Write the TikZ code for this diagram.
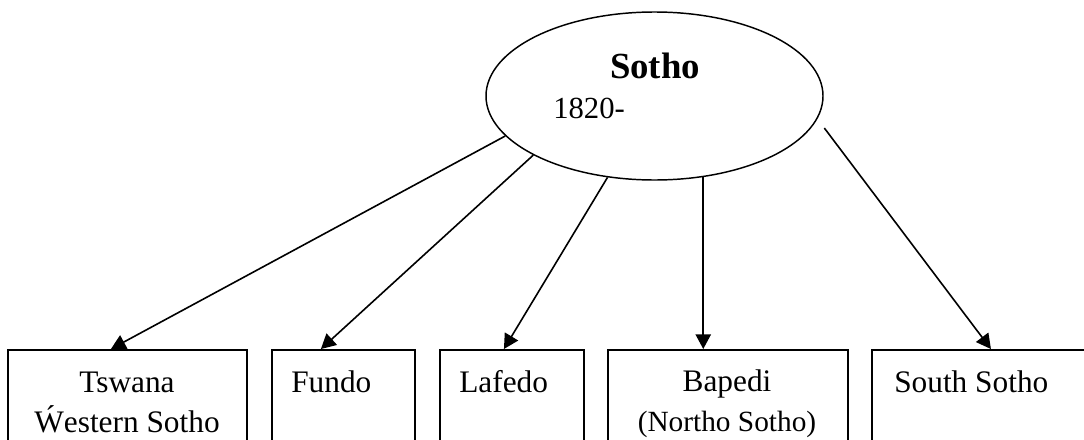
\documentclass[tikz,border=0pt]{standalone}
\usepackage{fontspec}
\setmainfont{Liberation Serif}
\usetikzlibrary{arrows.meta,shapes.geometric}

\begin{document}
\begin{tikzpicture} [x = 0.75pt, y = -0.75pt,
	rootnode/.style = {draw, ellipse, line width = 1.1pt, minimum width = 252.75pt, minimum height = 126pt, inner sep = 0pt},
	langbox/.style = {draw, rectangle, line width = 1.4pt, anchor = north west, minimum height = 79.5pt, inner sep = 0pt},
	langname/.style = {inner sep = 0pt, font = \fontsize{23.5}{30}\selectfont},
	branch/.style = {-{Triangle[length = 11pt, width = 11.5pt]}, line width = 1.2pt}]
	\useasboundingbox (0,0) rectangle (1084,439);

	\node [rootnode] (sotho) at (654.5,96) {};
	\node [anchor = base, inner sep = 0pt, font = \bfseries\fontsize{27.6}{33}\selectfont] (sothoname) at (655,78) {Sotho};
	\node [anchor = base west, inner sep = 0pt, font = \fontsize{23}{28}\selectfont] (sothodate) at (553,118) {1820-};

	\node [langbox, minimum width = 179.25pt] (tswana) at (7,349) {};
	\node [langbox, minimum width = 107.25pt] (fundo) at (271,349) {};
	\node [langbox, minimum width = 108pt] (lafedo) at (439,349) {};
	\node [langbox, minimum width = 180pt] (bapedi) at (607,349) {};
	\node [langbox, minimum width = 171.75pt] (southsotho) at (871,349) {};

	% base of a two-line node is its last line
	\node [langname, anchor = base, align = center] (tswananame) at (127,432) {Tswana\\Ẃestern Sotho};
	\node [langname, anchor = base west] (fundoname) at (291,392) {Fundo};
	\node [langname, anchor = base west] (lafedoname) at (459,392) {Lafedo};
	\node [langname, anchor = base, align = center] (bapediname) at (727,431) {Bapedi\\{\fontsize{22}{30}\selectfont (Northo Sotho)}};
	\node [langname, anchor = base west] (southsothoname) at (894,392) {South Sotho};

	\draw [branch] (sotho.195) -- ([xshift = -12.375pt]tswana.north);
	\draw [branch] (sotho.206) -- ([xshift = -16.875pt]fundo.north);
	\draw [branch] (sotho.240) -- ([xshift = -6pt]lafedo.north);
	\draw [branch] (sotho.301) -- (sotho.301 |- bapedi.north);
	\draw [branch, shorten <= 8.6pt] (sotho.352) -- ([xshift = 3.375pt]southsotho.north);
\end{tikzpicture}
\end{document}
